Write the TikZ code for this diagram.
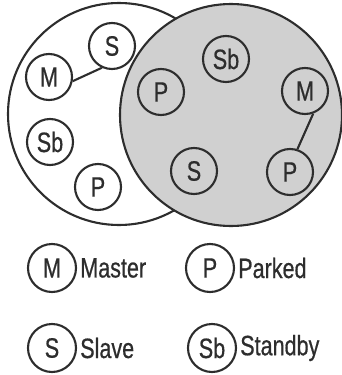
\documentclass[tikz,border=0pt]{standalone}
\usepackage{fontspec}
\setmainfont{Liberation Sans}[FakeStretch=0.77,FakeBold=0.6]
\usetikzlibrary{positioning}
\definecolor{ink}{RGB}{45,45,45}
\definecolor{piconet}{RGB}{208,208,208}

\begin{document}
\begin{tikzpicture}[x=1pt,y=-1pt,
    stn/.style={circle,draw=ink,line width=2.1pt,minimum size=46pt,inner sep=0pt,text=ink,font=\fontsize{28}{30}\selectfont},
    lbl/.style={text=ink,font=\fontsize{28}{30}\selectfont,inner sep=3pt,anchor=west}]
  \useasboundingbox (0,0) rectangle (342,375);
  % the two piconets
  \draw[ink,line width=2.1pt,fill=white] (119,114) circle[radius=111pt];
  \draw[ink,line width=2.1pt,fill=piconet] (231,115) circle[radius=111pt];
  % left piconet
  \node[stn,fill=white] (mL) at (49,77) {M};
  \node[stn,fill=white] (sL) at (112,46) {S};
  \node[stn,fill=white] (sbL) at (50,142) {Sb};
  \node[stn,fill=white] (pL) at (98,187) {P};
  \draw[ink,line width=2.1pt] (mL.-10) -- (sL.-115);
  % right piconet
  \node[stn,fill=piconet] (pA) at (161,92) {P};
  \node[stn,fill=piconet] (sbR) at (226,59) {Sb};
  \node[stn,fill=piconet] (mR) at (305,91) {M};
  \node[stn,fill=piconet] (pB) at (290,172) {P};
  \node[stn,fill=piconet] (sR) at (194,171) {S};
  \draw[ink,line width=2.1pt] (mR.-70) -- (pB.72);
  % legend
  \foreach \n/\t/\d/\x/\y in {kM/M/Master/52/268,kP/P/Parked/210/268,kS/S/Slave/52/348,kSb/Sb/Standby/212/348}{
    \node[stn,minimum size=48pt] (\n) at (\x,\y) {\t};
    \node[lbl] (\n-txt) at (\n.east) {\d};
  }
\end{tikzpicture}
\end{document}
